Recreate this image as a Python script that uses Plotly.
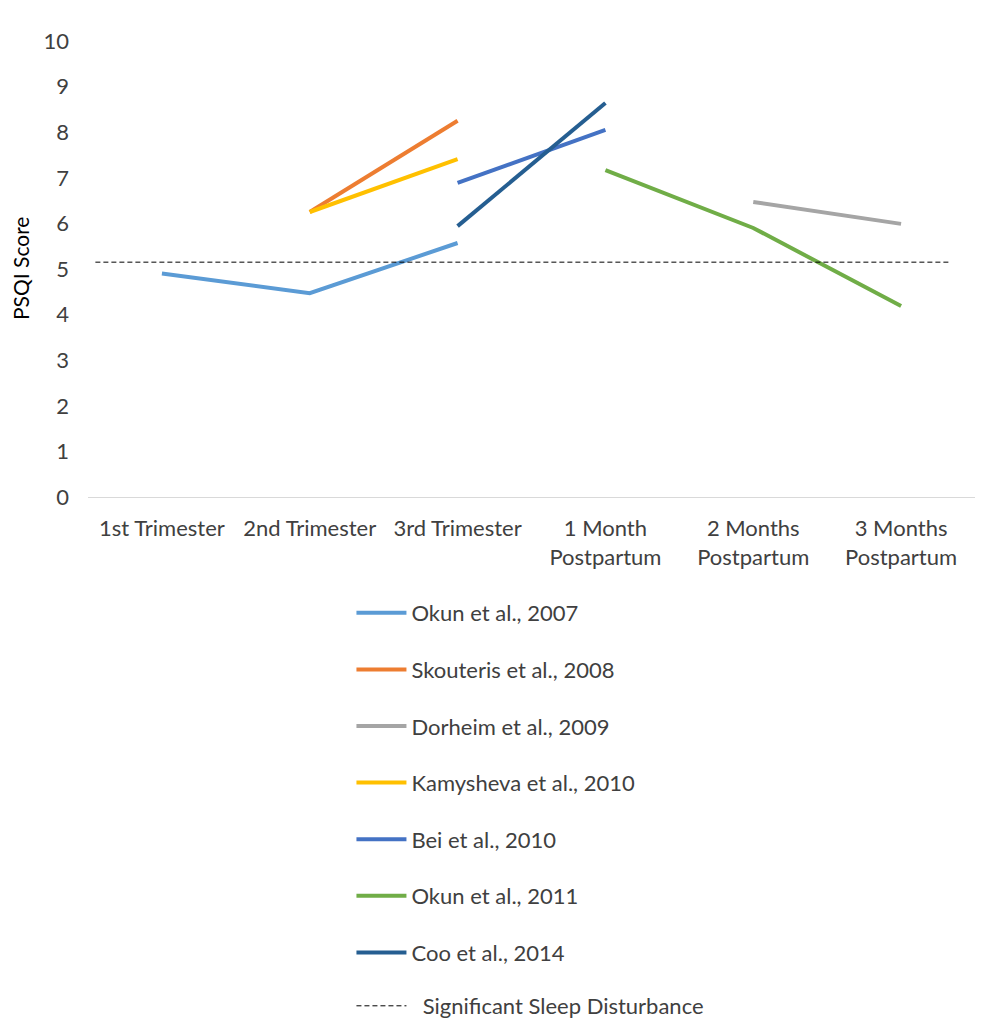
import plotly.graph_objects as go

# Time points along the x axis
categories = ["1st Trimester", "2nd Trimester", "3rd Trimester",
              "1 Month<br>Postpartum", "2 Months<br>Postpartum", "3 Months<br>Postpartum"]

# PSQI scores per study (None where a study has no measurement)
okun_2007 = [4.9, 4.47, 5.57, None, None, None]
skouteris_2008 = [None, 6.25, 8.25, None, None, None]
dorheim_2009 = [None, None, None, None, 6.47, 5.99]
kamysheva_2010 = [None, 6.25, 7.41, None, None, None]
bei_2010 = [None, None, 6.89, 8.05, None, None]
okun_2011 = [None, None, None, 7.17, 5.9, 4.19]
coo_2014 = [None, None, 5.94, 8.64, None, None]

# Clinical cut-off for significant sleep disturbance
threshold = 5.15
threshold_span = [-0.45, 5.34]

series = [
    ("Okun et al., 2007", okun_2007, "#5B9BD5"),
    ("Skouteris et al., 2008", skouteris_2008, "#ED7D31"),
    ("Dorheim et al., 2009", dorheim_2009, "#A5A5A5"),
    ("Kamysheva et al., 2010", kamysheva_2010, "#FFC000"),
    ("Bei et al., 2010", bei_2010, "#4472C4"),
    ("Okun et al., 2011", okun_2011, "#70AD47"),
    ("Coo et al., 2014", coo_2014, "#255E91"),
]

x_pos = list(range(len(categories)))
FONT = "Lato, 'Open Sans', sans-serif"
TEXT = "#404040"

fig = go.Figure()
for name, vals, color in series:
    fig.add_trace(go.Scatter(
        x=x_pos, y=vals, name=name, mode="lines",
        line=dict(color=color, width=4), connectgaps=False,
        legendgroup=name, legend="legend",
    ))

fig.add_trace(go.Scatter(
    x=threshold_span, y=[threshold, threshold],
    name="  Significant Sleep Disturbance", mode="lines",
    line=dict(color="black", width=1, dash="5px,3px"),
    legend="legend2",
))

legend_common = dict(
    xref="container", yref="container",
    x=0.355, xanchor="left", yanchor="top", orientation="v",
    font=dict(family=FONT, size=22, color=TEXT), itemwidth=50,
    bgcolor="rgba(0,0,0,0)",
)

fig.update_layout(
    width=990, height=1021,
    margin=dict(l=88, r=15, t=41, b=524, autoexpand=False),
    paper_bgcolor="white", plot_bgcolor="white",
    font=dict(family=FONT, size=22, color=TEXT),
    showlegend=True,
    legend=dict(y=1 - 592 / 1021, tracegroupgap=25, **legend_common),
    legend2=dict(y=1 - 985 / 1021, **legend_common),
    annotations=[dict(
        text="PSQI Score", textangle=-90, showarrow=False,
        xref="paper", yref="paper", x=(20 - 88) / 887, y=0.5,
        xanchor="center", yanchor="middle",
        font=dict(family=FONT, size=21, color="#000000"),
    )],
)

fig.update_xaxes(
    range=[-0.5, 5.5], tickmode="array", tickvals=x_pos, ticktext=categories,
    tickangle=0, showgrid=False, zeroline=False, showline=True,
    linecolor="#D9D9D9", linewidth=1, ticks="", ticklabelstandoff=12,
    tickfont=dict(size=22, color=TEXT),
)
fig.update_yaxes(
    range=[0, 10], tickmode="array", tickvals=list(range(0, 11)),
    showgrid=False, zeroline=False, showline=False, ticks="",
    ticklabelstandoff=18, tickfont=dict(size=22, color=TEXT),
)

fig.write_html("out.html")
